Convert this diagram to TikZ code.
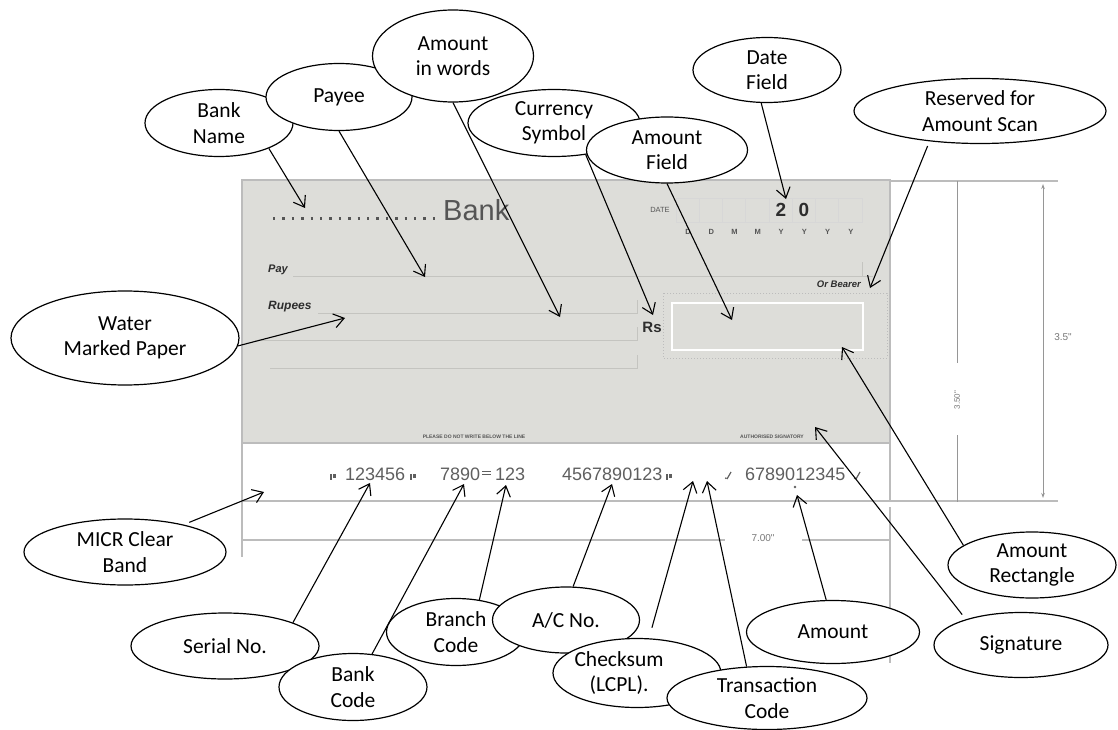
\documentclass[tikz,border=0pt]{standalone}
\usepackage{fontspec}
\setmainfont{Carlito}
\newfontfamily\chqfont{Liberation Sans}
\usetikzlibrary{shapes.geometric,arrows.meta}
\definecolor{paper}{RGB}{221,221,217}
\definecolor{rulegray}{RGB}{196,196,192}
\definecolor{edgegray}{RGB}{188,188,188}
\definecolor{ink}{RGB}{85,85,85}
\definecolor{darkink}{RGB}{45,45,45}
\definecolor{dimgray}{RGB}{150,150,150}
\definecolor{micr}{RGB}{95,95,95}
\begin{document}
\begin{tikzpicture}[x=1pt,y=-1pt]
\tikzset{
  oval/.style={ellipse,draw=black,line width=1.2pt,fill=white,inner sep=0pt,
    align=center,font=\fontsize{21.5}{25.5}\selectfont},
  callout/.style={draw=black,line width=1.1pt,-{Straight Barb[length=10pt,width=14pt]}},
  guide/.style={draw=edgegray,line width=1.6pt},
  chqrule/.style={draw=rulegray,line width=1pt},
  dimline/.style={draw=dimgray,line width=1pt},
  micrtext/.style={anchor=base west,inner sep=0pt,text=micr,font=\chqfont\fontsize{18}{18}\selectfont},
  onus/.pic={\fill[micr] (0,0) rectangle (1.6,-6.5); \fill[micr] (3.2,-2.5) rectangle (6.4,-6.5);},
  transit/.pic={\fill[micr] (1,-4.6) rectangle (10,-5.8); \fill[micr] (1,-7.6) rectangle (10,-8.8);},
  amtsym/.pic={\draw[micr,line width=1.2pt] (2,-1)--(6,-8); \fill[micr] (0.8,-1.8) circle (1);}
}
\fill[white] (0,0) rectangle (1118,730);
\useasboundingbox (0,0) rectangle (1118,730);

% ---- cheque body ----
\fill[paper] (242,180) rectangle (890,443);
\draw[edgegray,line width=1.2pt] (242,180) rectangle (890,443);

% bank name line
\draw[ink,line width=2.4pt,dash pattern=on 2.4pt off 7pt] (273,218.5) -- (441,218.5);
\node[anchor=base west,inner sep=0pt,text=ink,font=\chqfont\fontsize{29}{29}\selectfont] (banktxt) at (443,220) {Bank};

% date boxes
\node[text=ink,font=\chqfont\fontsize{7.5}{8}\selectfont] (datelbl) at (660,210) {DATE};
\foreach \i in {0,...,7}
  \draw[edgegray!60,line width=0.8pt] (676+23.25*\i,198) rectangle ++(23.25,24);
\node[text=darkink,font=\chqfont\bfseries\fontsize{19}{19}\selectfont] (dig2) at (781,210) {2};
\node[text=darkink,font=\chqfont\bfseries\fontsize{19}{19}\selectfont] (dig0) at (804,210) {0};
\foreach \l [count=\k from 0] in {D,D,M,M,Y,Y,Y,Y}
  \node[text=ink,font=\chqfont\bfseries\fontsize{7.5}{8}\selectfont] (dl\k) at (688+23.25*\k,232) {\l};

% payee and amount lines
\node[anchor=base west,inner sep=0pt,text=darkink,font=\chqfont\bfseries\itshape\fontsize{11}{11}\selectfont] (paytxt) at (268,272) {Pay};
\draw[chqrule] (293,276) -- (873,276);
\draw[chqrule] (862,262) -- (862,276);
\node[anchor=base east,inner sep=0pt,text=darkink,font=\chqfont\bfseries\itshape\fontsize{9.5}{10}\selectfont] (bearer) at (861,287) {Or Bearer};
\node[anchor=base west,inner sep=0pt,text=darkink,font=\chqfont\bfseries\itshape\fontsize{12}{12}\selectfont] (rupees) at (268,309) {Rupees};
\draw[chqrule] (318,313) -- (637,313) -- (637,300);
\draw[chqrule] (255,340) -- (637,340) -- (637,327);
\draw[chqrule] (270,368) -- (637,368) -- (637,355);
\node[text=darkink,font=\chqfont\bfseries\fontsize{15}{15}\selectfont] (rs) at (652,327) {Rs};

% amount box
\draw[edgegray,dotted,line width=1pt] (663,293) rectangle (887,358);
\draw[white,line width=1.6pt] (672,303) rectangle (863,350);

\node[text=ink,font=\chqfont\bfseries\fontsize{5}{5}\selectfont] (nowrite) at (474,437) {PLEASE DO NOT WRITE BELOW THE LINE};
\node[text=ink,font=\chqfont\bfseries\fontsize{5}{5}\selectfont] (authsig) at (772,437) {AUTHORISED SIGNATORY};

% ---- MICR band and guides ----
\draw[guide] (242,443) -- (242,557);
\draw[guide] (242,501) -- (1058,501);
\draw[guide] (242,540) -- (725,540);
\draw[guide] (802,540) -- (890,540);
\draw[guide] (890,443) -- (890,501);
\draw[guide] (890,507) -- (890,663);
\node[text=dimgray!80!black,font=\chqfont\fontsize{10}{10}\selectfont] (w700) at (763,538) {7.00"};

\draw[guide] (890,181) -- (1058,181);
\draw[dimline,{Stealth[length=5pt,width=3.5pt]}-{Stealth[length=5pt,width=3.5pt]}] (1043,184) -- (1043,498);
\node[text=dimgray!80!black,font=\chqfont\fontsize{10}{10}\selectfont] (h35) at (1063,337) {3.5"};
\draw[dimline] (957,181) -- (957,363);
\draw[dimline] (957,435) -- (957,502);
\node[rotate=90,text=dimgray!80!black,font=\chqfont\fontsize{8}{8}\selectfont] (h350) at (957,400) {3.50"};

\pic at (330,480) {onus};
\node[micrtext] (serialno) at (345,480) {123456};
\pic at (410,480) {onus};
\node[micrtext] (bankno) at (440,480) {7890};
\pic at (481,480) {transit};
\node[micrtext] (branchno) at (495,480) {123};
\node[micrtext] (acno) at (562,480) {4567890123};
\pic at (666,480) {onus};
\pic at (725,480) {amtsym};
\node[micrtext] (amtno) at (745,480) {6789012345};
\pic at (854,480) {amtsym};
\fill[micr] (795,487) circle (1.3);

% ---- callout ellipses ----
\node[oval,minimum width=148,minimum height=67] (bn) at (219,123) {Bank\\Name};
\node[oval,minimum width=146,minimum height=67] (py) at (339,97) {Payee};
\node[oval,minimum width=161,minimum height=92] (aw) at (453,56) {Amount\\in words};
\node[oval,minimum width=172,minimum height=67] (cs) at (554,123) {Currency\\Symbol};
\node[oval,minimum width=161,minimum height=66] (af) at (667,150) {Amount\\Field};
\node[oval,minimum width=148,minimum height=65] (df) at (767,70) {Date\\Field};
\node[oval,minimum width=252,minimum height=65] (rsv) at (980,111) {Reserved for\\Amount Scan};
\node[oval,minimum width=228,minimum height=94] (wm) at (125,338) {Water\\Marked Paper};
\node[oval,minimum width=202,minimum height=66] (mc) at (125,552) {MICR Clear\\Band};
\node[oval,minimum width=188,minimum height=66] (sn) at (225,646) {Serial No.};
\node[oval,minimum width=148,minimum height=67] (bc) at (353,687) {Bank\\Code};
\node[oval,minimum width=139,minimum height=67] (br) at (456,632) {Branch\\Code};
\node[oval,minimum width=147,minimum height=66] (ac) at (566,620) {A/C No.};
\node[oval,minimum width=168,minimum height=69] (ck) at (637,673) {};
\node[align=center,font=\fontsize{21.5}{25.5}\selectfont] (cktxt) at (619,673) {Checksum\\(LCPL).};
\node[oval,minimum width=200,minimum height=63] (tc) at (767,698) {Transaction\\Code};
\node[oval,minimum width=173,minimum height=63] (am) at (833,632) {Amount};
\node[oval,minimum width=174,minimum height=65] (sg) at (1021,645) {Signature};
\node[oval,minimum width=168,minimum height=66] (ar) at (1032,565) {Amount\\Rectangle};

% ---- arrow targets on the cheque ----
\coordinate (tBN) at (305,208);
\coordinate (tPY) at (425,277);
\coordinate (tAW) at (560,317);
\coordinate (tCS) at (653,315);
\coordinate (tAF) at (732,320);
\coordinate (tDF) at (786,199);
\coordinate (tRS) at (870,288);
\coordinate (tWM) at (345,318);
\coordinate (tMC) at (264,492);
\coordinate (tSN) at (370,483);
\coordinate (tBC) at (464,484);
\coordinate (tBR) at (506,485);
\coordinate (tAC) at (612,484);
\coordinate (tCK) at (693,481);
\coordinate (tTC) at (707,481);
\coordinate (tAM) at (797,495);
\coordinate (tAR) at (842,347);
\coordinate (tSG) at (815,427);

\draw[callout] (bn.-27) -- (tBN);
\draw[callout] (py.-90) -- (tPY);
\draw[callout] (aw.-90) -- (tAW);
\draw[callout] (cs.-45) -- (tCS);
\draw[callout] (af.-90) -- (tAF);
\draw[callout] (df.-100) -- (tDF);
\draw[callout,shorten <=5pt] (rsv.-149) -- (tRS);
\draw[callout] (wm.-4) -- (tWM);
\draw[callout,shorten <=6pt] (mc.25) -- (tMC);
\draw[callout] (sn.19) -- (tSN);
\draw[callout] (bc.60) -- (tBC);
\draw[callout] (br.54) -- (tBR);
\draw[callout] (ac.78) -- (tAC);
\draw[callout,shorten <=11pt] (ck.71) -- (tCK);
\draw[callout] (tc.123) -- (tTC);
\draw[callout] (am.102) -- (tAM);
\draw[callout] (ar.164) -- (tAR);
\draw[callout,shorten <=6pt] (sg.155) -- (tSG);
\end{tikzpicture}
\end{document}
